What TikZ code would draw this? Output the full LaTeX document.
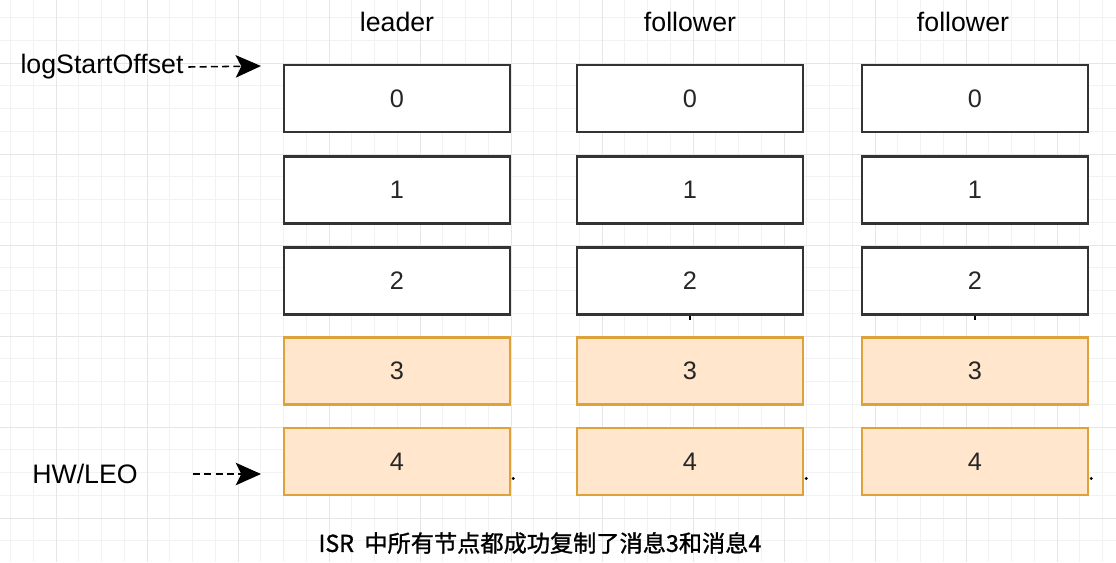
\documentclass[tikz,border=0pt]{standalone}
\usepackage{fontspec}
\setmainfont{Liberation Sans}
\newfontfamily\cjk[FakeBold=1.2]{Noto Sans CJK SC}
\usetikzlibrary{arrows.meta}
\definecolor{gridminor}{HTML}{F2F2F2}
\definecolor{gridmajor}{HTML}{E6E6E6}
\definecolor{boxline}{HTML}{333333}
\definecolor{newfill}{HTML}{FFE6CC}
\definecolor{newline}{HTML}{DDA23A}
\begin{document}
\begin{tikzpicture}[x=0.025cm, y=-0.025cm,
    msgbox/.style={draw=boxline, line width=1.8pt, fill=white, minimum width=5.65cm,
      minimum height=1.68cm, inner sep=0pt, text=black!85, font=\fontsize{18}{21}\selectfont},
    newbox/.style={msgbox, draw=newline, fill=newfill},
    head/.style={font=\fontsize{19}{22}\selectfont},
    ptr/.style={-{Stealth[length=18pt, width=16pt, inset=4pt]}, line width=1.1pt,
      dash pattern=on 5pt off 3pt}]
  \useasboundingbox (0,0) rectangle (1116,562);
  % background grid
  \foreach \gx in {0,...,48} \draw[gridminor, line width=0.5pt] ({10.5+22.75*\gx},0) -- ({10.5+22.75*\gx},562);
  \foreach \gy in {0,...,23} \draw[gridminor, line width=0.5pt] (0,{17.5+22.75*\gy}) -- (1116,{17.5+22.75*\gy});
  \foreach \gx in {0,...,11} \draw[gridmajor, line width=0.6pt] ({56+91*\gx},0) -- ({56+91*\gx},562);
  \foreach \gy in {0,...,5} \draw[gridmajor, line width=0.6pt] (0,{63+91*\gy}) -- (1116,{63+91*\gy});
  % column titles
  \node[head] (hdl) at (397,22) {leader};
  \node[head] (hdfa) at (690,22) {follower};
  \node[head] (hdfb) at (963,22) {follower};
  % message logs
  \foreach \col/\cx in {l/397, fa/690, fb/975} {
    \foreach \row/\cy in {0/98.5, 1/190, 2/281}
      \node[msgbox] (\col\row) at (\cx,\cy) {\row};
    \foreach \row/\cy in {3/371, 4/461.5}
      \node[newbox] (\col\row) at (\cx,\cy) {\row};
  }
  % stray marks
  \foreach \col in {l, fa, fb}
    \fill ([shift={(2,17)}]\col4.east) circle (1.6);
  \foreach \col in {fa, fb}
    \draw[line width=1pt] (\col2.south) -- ++(0,4);
  % pointers
  \node[head] (lso) at (102,67) {logStartOffset};
  \coordinate (lsoTip) at (261,66);
  \draw[ptr] (lso.east) -- (lsoTip);
  \node[head] (hw) at (85,474) {HW/LEO};
  \coordinate (hwTail) at (193,474);
  \coordinate (hwTip) at (261,474);
  \draw[ptr] (hwTail) -- (hwTip);
  % caption
  \node[font=\cjk\fontsize{16.5}{20}\selectfont] (cap) at (540,543) {ISR\ \ 中所有节点都成功复制了消息3和消息4};
\end{tikzpicture}
\end{document}
